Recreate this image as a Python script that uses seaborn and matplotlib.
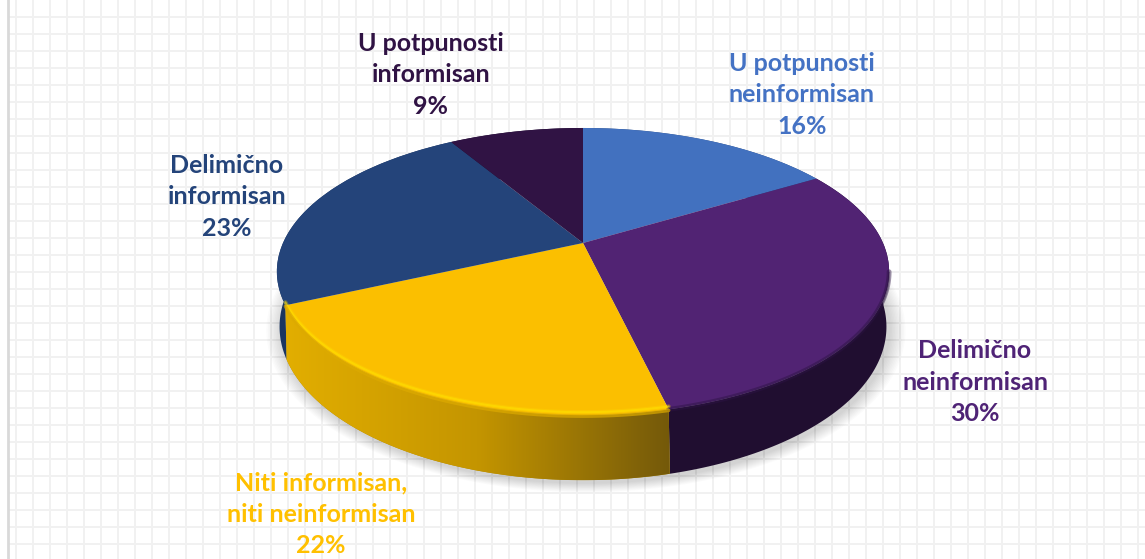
import numpy as np
import matplotlib
matplotlib.use("Agg")
import matplotlib.pyplot as plt
import seaborn as sns
from matplotlib.colors import LinearSegmentedColormap
from matplotlib.patches import Polygon
from matplotlib.transforms import Transform

# data (labels show these rounded)
labels = [
    "U potpunosti\nneinformisan",
    "Delimično\nneinformisan",
    "Niti informisan,\nniti neinformisan",
    "Delimično\ninformisan",
    "U potpunosti\ninformisan",
]
values = [16.4, 29.9, 21.9, 23.2, 8.6]

top_colors = ["#4271BF", "#512373", "#FBBF00", "#24447A", "#301344"]
wall_colors = ["#2A4A80", "#200E30", "#B08800", "#1B3560", "#1E0C2C"]
text_colors = ["#4472C4", "#4F2376", "#FFC000", "#24447A", "#301344"]
label_pos = [(802, 95), (975, 382), (321, 514), (227, 197), (431, 75)]


class Perspective(Transform):
    # tilted disc: unit circle -> picture pixels
    input_dims = 2
    output_dims = 2

    def __init__(self, cx, cy, a, b, k):
        super().__init__()
        self.cx, self.cy, self.a, self.b, self.k = cx, cy, a, b, k

    def transform_non_affine(self, values):
        values = np.asarray(values, dtype=float)
        w = 1 + self.k * values[:, 1]
        x = self.cx + self.b * values[:, 0] / w
        y = self.cy - self.a * values[:, 1] / w
        return np.column_stack([x, y])


top_plane = Perspective(583, 243, 137.9, 300, 0.199)
bottom_plane = Perspective(583, 293, 146, 296, 0.22)


def arc(theta1, theta2, n=120):
    t = np.radians(np.linspace(theta1, theta2, n))
    return np.column_stack([np.cos(t), np.sin(t)])


sns.set_theme(style="whitegrid")
plt.rcParams["font.family"] = ["Lato", "DejaVu Sans"]

fig = plt.figure(figsize=(11.45, 5.59), dpi=100)
fig.patch.set_facecolor("white")

# sheet grid behind the chart
ax_bg = fig.add_axes([8 / 1145, 0, 1 - 8 / 1145, 1])
ax_bg.set_xlim(8, 1145)
ax_bg.set_ylim(559, 0)
ax_bg.set_xticks(np.arange(16.3, 1145, 17))
ax_bg.set_yticks(np.arange(17.3, 559, 17))
ax_bg.tick_params(labelbottom=False, labelleft=False, length=0)
ax_bg.grid(True, color="#F1F1F1", linewidth=1.4)
for side in ["top", "right", "bottom"]:
    ax_bg.spines[side].set_visible(False)
ax_bg.spines["left"].set_color("#D9D9D9")
ax_bg.spines["left"].set_linewidth(2)

ax = fig.add_axes([0, 0, 1, 1])
ax.patch.set_alpha(0)

wedges, _ = ax.pie(values, colors=top_colors, startangle=90, counterclock=False,
                   wedgeprops={"linewidth": 0})

# soft shadow under the disc
ring = arc(0, 360, 240)
for grow in np.arange(16, 0, -1.5):
    pts = bottom_plane.transform(ring)
    mid = pts.mean(axis=0)
    scale = 1 + grow / 300
    pts = mid + (pts - mid) * scale + np.array([3, 3])
    ax.add_patch(Polygon(pts, closed=True, fc="#000000", ec="none", alpha=0.016, zorder=1))

yellow_cmap = LinearSegmentedColormap.from_list("yellow_wall", ["#E2AE00", "#C49500", "#74590A"])

for i, w in enumerate(wedges):
    w.set_transform(top_plane + ax.transData)
    w.set_zorder(3)
    edge = arc(w.theta1, w.theta2)
    poly = np.vstack([top_plane.transform(edge), bottom_plane.transform(edge)[::-1]])
    wall = Polygon(poly, closed=True, fc=wall_colors[i], ec="none", zorder=2)
    ax.add_patch(wall)
    if labels[i].startswith("Niti"):
        grad = np.linspace(0, 1, 256).reshape(1, -1)
        im = ax.imshow(grad, cmap=yellow_cmap, aspect="auto", zorder=2.1,
                       extent=(poly[:, 0].min(), poly[:, 0].max(), poly[:, 1].max(), poly[:, 1].min()))
        im.set_clip_path(wall)

    # rim along the front edge of the top surface, only where the wall shows
    unit = edge[edge[:, 1] < -0.2]
    if len(unit) < 2:
        continue
    rim = top_plane.transform(unit)
    if labels[i].startswith("Niti"):
        ax.plot(rim[:, 0], rim[:, 1] - 3, color="#FFDC00", lw=3, alpha=0.3, zorder=4)
        ax.plot(rim[:, 0], rim[:, 1] - 3, color="#FFE000", lw=1.4, alpha=0.6, zorder=4)
        ax.plot(rim[:, 0], rim[:, 1] + 1, color="#DDAA00", lw=2.5, alpha=0.7, zorder=4)
    elif labels[i].startswith("Delimično\nneinformisan"):
        ax.plot(rim[:, 0], rim[:, 1], color="#2A1240", lw=3.5, alpha=0.45, zorder=4)
        ax.plot(rim[:, 0], rim[:, 1] + 1, color="#2A1240", lw=1.5, alpha=0.4, zorder=4)

for name, val, pos, col in zip(labels, values, label_pos, text_colors):
    ax.text(pos[0], pos[1], f"{name}\n{val:.0f}%", color=col, fontsize=18, fontweight="bold",
            ha="center", va="center", linespacing=1.45, zorder=6)

ax.set_aspect("auto")
ax.set_xlim(0, 1145)
ax.set_ylim(559, 0)
ax.axis("off")

fig.savefig("out.png", dpi=100, facecolor="white")
